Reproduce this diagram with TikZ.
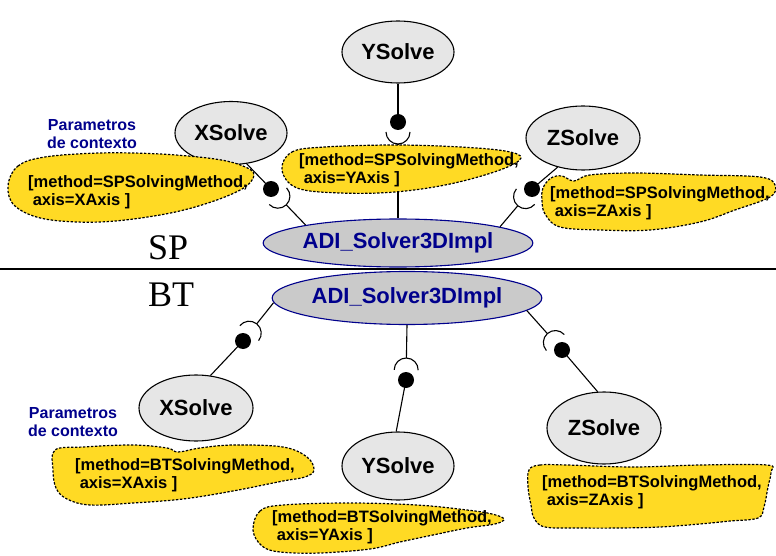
\documentclass[tikz,border=0pt]{standalone}
\usepackage{fontspec}
\setmainfont{Liberation Serif}
\setsansfont{Liberation Sans}
\usetikzlibrary{calc,shapes.geometric}
\definecolor{navy}{RGB}{0,0,140}
\definecolor{solvegray}{RGB}{230,230,230}
\definecolor{adigray}{RGB}{202,202,202}
\definecolor{cloudyellow}{RGB}{255,218,36}
\tikzset{
  solve/.style={ellipse, draw=black, line width=1.1pt, fill=solvegray, inner sep=0pt,
    font=\sffamily\bfseries\fontsize{22}{24}\selectfont},
  adi/.style={ellipse, draw=navy, line width=1.1pt, fill=adigray, text=navy, inner sep=0pt,
    minimum width=260pt, font=\sffamily\bfseries\fontsize{22}{24}\selectfont},
  conn/.style={line width=1.1pt},
  cloud/.style={fill=cloudyellow, draw=black, line width=1.2pt, dash pattern=on 2.4pt off 1.6pt},
  ctext/.style={anchor=north west, align=left, inner sep=0pt,
    font=\sffamily\bfseries\fontsize{16.5}{18}\selectfont},
  ptext/.style={anchor=north, align=center, inner sep=0pt, text=navy,
    font=\sffamily\bfseries\fontsize{16}{18}\selectfont},
  layer/.style={anchor=base west, inner sep=0pt, font=\fontsize{36}{40}\selectfont}
}
\newcommand\lolli[3]{%
  \draw[conn] (#2) -- (#1);
  \draw[conn] let \p1=($(#3)-(#2)$), \n1={atan2(\y1,\x1)} in
    ($(#2)!10pt!(#3)$) ++({\n1+90}:12pt) arc[start angle={\n1+90}, delta angle=-180, radius=12pt];
  \draw[conn] ($(#2)!22pt!(#3)$) -- (#3);
  \fill (#2) circle[radius=8pt];
}
\begin{document}
\begin{tikzpicture}[x=1pt,y=1pt]
\useasboundingbox (0,0) rectangle (776,-556);
% separator
\draw[line width=1.1pt] (0,-269) coordinate (l0) -- (776,-269) coordinate (l1);
\node[layer] (sp) at (148,-259) {SP};
\node[layer] (bt) at (148,-306) {BT};
% top nodes
\node[adi, minimum height=48pt] (ADIsp) at (398,-243) {ADI\_Solver3DImpl};
\node[solve, minimum width=112pt, minimum height=63pt] (XS) at (231,-133) {XSolve};
\node[solve, minimum width=112pt, minimum height=62pt] (YS) at (398,-52) {YSolve};
\node[solve, minimum width=114pt, minimum height=64pt] (ZS) at (583,-138) {ZSolve};
% bottom nodes
\node[adi, minimum width=261pt, minimum height=53pt] (ADIbt) at (407,-298) {ADI\_Solver3DImpl};
\node[solve, minimum width=114pt, minimum height=66pt] (XS2) at (196,-408) {XSolve};
\node[solve, minimum width=112pt, minimum height=68pt] (YS2) at (398,-466) {YSolve};
\node[solve, minimum width=114pt, minimum height=72pt] (ZS2) at (604,-428) {ZSolve};
% balls
\coordinate (bX) at (271,-189);
\coordinate (bY) at (398,-122);
\coordinate (bZ) at (532,-189);
\coordinate (bX2) at (243,-341);
\coordinate (bY2) at (406,-380);
\coordinate (bZ2) at (562,-350);
\lolli{XS.-63}{bX}{ADIsp.169}
\lolli{YS.south}{bY}{ADIsp.north}
\lolli{ZS.-131}{bZ}{ADIsp.9}
\lolli{XS2.66}{bX2}{ADIbt.182}
\lolli{YS2.93}{bY2}{ADIbt.south}
\lolli{ZS2.100}{bZ2}{ADIbt.-6}
% clouds
\filldraw[cloud] plot[smooth cycle, tension=0.6] coordinates {
 (8,-186) (18,-166) (45,-157) (100,-153) (160,-154) (215,-159) (243,-166) (254,-175)
 (242,-189) (205,-204) (160,-215) (100,-222) (45,-219) (15,-206)};
\filldraw[cloud] plot[smooth cycle, tension=0.6] coordinates {
 (282,-170) (292,-152) (325,-147) (395,-145) (460,-147) (505,-151) (521,-158)
 (500,-170) (450,-184) (395,-192) (340,-193) (297,-188)};
\filldraw[cloud] plot[smooth cycle, tension=0.6] coordinates {
 (543,-188) (551,-178) (562,-176) (574,-181) (590,-175) (635,-173) (700,-175) (760,-177)
 (775,-185) (770,-197) (735,-210) (700,-222) (650,-230) (600,-230) (560,-227) (545,-214) (542,-200)};
\filldraw[cloud] plot[smooth cycle, tension=0.6] coordinates {
 (55,-450) (83,-447) (133,-445) (167,-448) (178,-452) (200,-448) (233,-445) (283,-447)
 (307,-457) (314,-470) (305,-477) (283,-481) (233,-491) (183,-499) (133,-503) (90,-505)
 (67,-499) (56,-488) (53,-470)};
\filldraw[cloud] plot[smooth cycle, tension=0.6] coordinates {
 (253,-530) (260,-511) (283,-505) (350,-503) (417,-505) (467,-510) (492,-514) (504,-519)
 (495,-524) (467,-528) (433,-535) (400,-542) (370,-549) (320,-553) (280,-552) (262,-546)};
\filldraw[cloud] plot[smooth cycle, tension=0.6] coordinates {
 (529,-470) (540,-465) (567,-465) (633,-467) (700,-465) (767,-465) (771,-472) (768,-487)
 (764,-507) (758,-518) (730,-521) (700,-524) (660,-527) (620,-528) (580,-528) (545,-527)
 (534,-518) (531,-505) (528,-487)};
% cloud texts
\node[ctext] (tX) at (28,-175) {[method=SPSolvingMethod,\\\hspace*{4.6pt}axis=XAxis ]};
\node[ctext] (tY) at (299,-153) {[method=SPSolvingMethod,\\\hspace*{4.6pt}axis=YAxis ]};
\node[ctext] (tZ) at (550,-186) {[method=SPSolvingMethod,\\\hspace*{4.6pt}axis=ZAxis ]};
\node[ctext] (tX2) at (75,-458) {[method=BTSolvingMethod,\\\hspace*{4.6pt}axis=XAxis ]};
\node[ctext] (tY2) at (272,-510) {[method=BTSolvingMethod,\\\hspace*{4.6pt}axis=YAxis ]};
\node[ctext] (tZ2) at (542,-475) {[method=BTSolvingMethod,\\\hspace*{4.6pt}axis=ZAxis ]};
% context labels
\node[ptext] (p1) at (92,-119) {Parametros\\de contexto};
\node[ptext] (p2) at (73,-407) {Parametros\\de contexto};
\end{tikzpicture}
\end{document}
